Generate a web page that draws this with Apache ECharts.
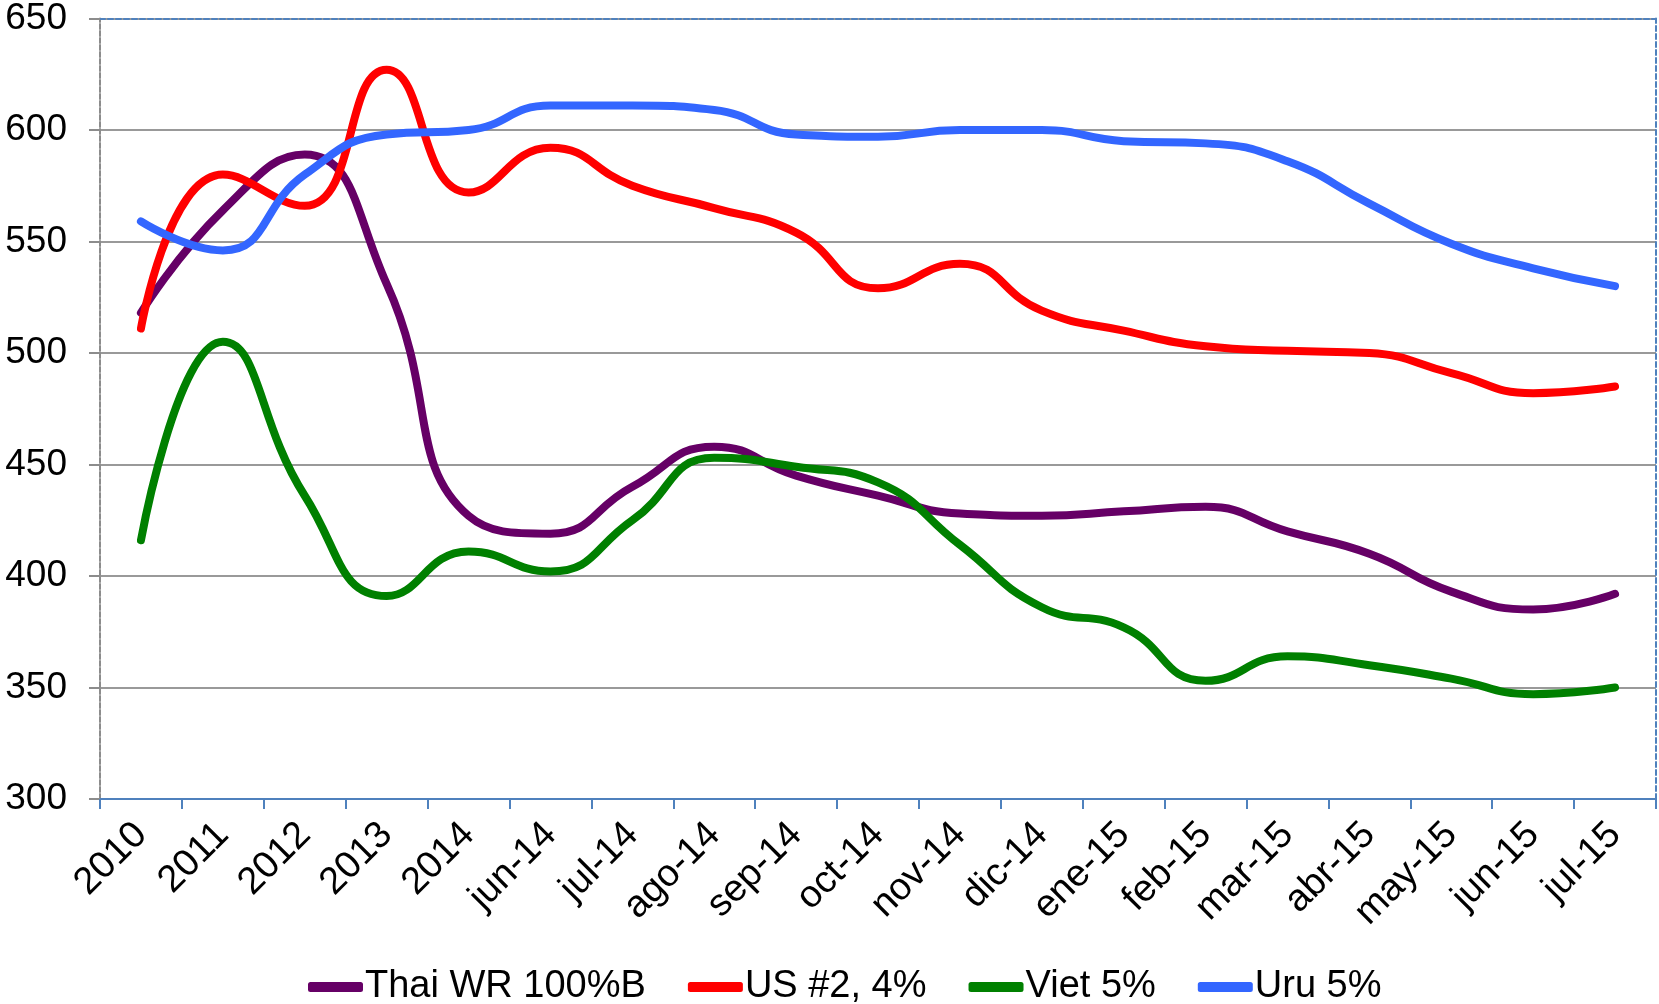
<!DOCTYPE html>
<html>
<head>
<meta charset="utf-8">
<script src="https://cdn.jsdelivr.net/npm/echarts@6/dist/echarts.min.js"></script>
<style>
  html, body { margin: 0; padding: 0; background: #fff; }
  #chart { width: 1659px; height: 1004px; }
</style>
</head>
<body>
<div id="chart"></div>
<script>
  var categories = ['2010', '2011', '2012', '2013', '2014', 'jun-14', 'jul-14', 'ago-14', 'sep-14', 'oct-14',
    'nov-14', 'dic-14', 'ene-15', 'feb-15', 'mar-15', 'abr-15', 'may-15', 'jun-15', 'jul-15']
  var thai = [518, 564, 589, 531, 427, 419, 440, 458, 445, 436, 428, 427, 429, 431, 420, 410, 393, 385, 392]
  var us = [511, 580, 566, 627, 572, 592, 575, 565, 554, 529, 540, 519, 510, 503, 501, 500, 491, 482, 485]
  var viet = [416, 505, 436, 391, 411, 402, 425, 453, 449, 442, 414, 386, 377, 353, 364, 360, 354, 347, 350]
  var uru = [559, 546, 580, 598, 600, 611, 611, 609, 598, 597, 600, 600, 595, 594, 586, 567, 549, 538, 530]
  var seriesNames = ['Thai WR 100%B', 'US #2, 4%', 'Viet 5%', 'Uru 5%']
  var colors = ['#660066', '#ff0000', '#008000', '#3366ff']

  var font = '"Liberation Sans", Arial, sans-serif'
  var chart = echarts.init(document.getElementById('chart'))

  function makeLine(name, data, color) {
    return {
      name: name,
      type: 'line',
      data: data,
      smooth: 0.5,
      symbol: 'none',
      lineStyle: { color: color, width: 8, cap: 'round', join: 'round' },
      itemStyle: { color: color }
    }
  }

  chart.setOption({
    animation: false,
    color: colors,
    grid: { left: 100, right: 3, top: 18, bottom: 205 },
    legend: {
      left: 303,
      top: 963,
      icon: 'roundRect',
      itemWidth: 55,
      itemHeight: 10,
      itemGap: 42,
      textStyle: { fontFamily: font, fontSize: 38, color: '#000', padding: [0, 0, 0, -3] },
      data: seriesNames
    },
    xAxis: [
      {
        type: 'category',
        data: categories,
        boundaryGap: true,
        axisLine: { lineStyle: { color: '#4f81bd', width: 2 } },
        axisTick: { show: true, length: 10, lineStyle: { color: '#4f81bd', width: 2 } },
        axisLabel: { rotate: 45, margin: 30, fontFamily: font, fontSize: 38, color: '#000', interval: 0 }
      },
      {
        type: 'category',
        position: 'top',
        data: categories,
        axisLine: { lineStyle: { color: '#4f81bd', width: 2, type: [5, 3] } },
        axisTick: { show: false },
        axisLabel: { show: false }
      }
    ],
    yAxis: [
      {
        type: 'value',
        min: 300,
        max: 650,
        interval: 50,
        axisLine: { show: true, lineStyle: { color: '#8c8c8c', width: 2, type: [5, 2] } },
        axisTick: { show: true, length: 11, lineStyle: { color: '#8c8c8c', width: 2 } },
        axisLabel: { margin: 33, fontFamily: font, fontSize: 37, color: '#000' },
        splitLine: { lineStyle: { color: '#999999', width: 2 } }
      },
      {
        type: 'value',
        position: 'right',
        min: 300,
        max: 650,
        interval: 50,
        axisLine: { show: true, lineStyle: { color: '#4f81bd', width: 2, type: [5, 3] } },
        axisTick: { show: false },
        axisLabel: { show: false },
        splitLine: { show: false }
      }
    ],
    series: [
      makeLine(seriesNames[0], thai, colors[0]),
      makeLine(seriesNames[1], us, colors[1]),
      makeLine(seriesNames[2], viet, colors[2]),
      makeLine(seriesNames[3], uru, colors[3])
    ]
  })
</script>
</body>
</html>
